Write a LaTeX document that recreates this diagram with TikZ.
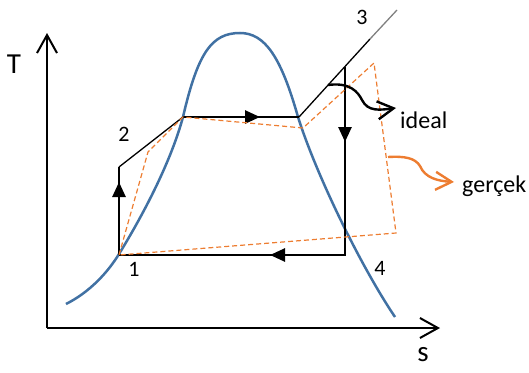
\documentclass[tikz,border=0pt]{standalone}
\usepackage{fontspec}
\setmainfont{Carlito}
\usetikzlibrary{arrows.meta}
\definecolor{domeblue}{RGB}{65,113,163}
\definecolor{realorange}{RGB}{237,125,49}
\tikzset{
  axis/.style={line width=2pt,-{Straight Barb[length=18pt,width=20pt,line width=2pt]}},
  thick cycle/.style={line width=2.6pt},
  thin cycle/.style={line width=1.3pt},
  midarrow/.style={line width=2.6pt,-{Triangle[length=15pt,width=13pt]}},
  real/.style={realorange,line width=1.2pt,dash pattern=on 5pt off 3pt},
  lbl/.style={font=\fontsize{22}{22}\selectfont,inner sep=0pt},
  wordlbl/.style={font=\fontsize{24}{24}\selectfont,inner sep=0pt},
  axlbl/.style={font=\fontsize{29}{29}\selectfont,inner sep=0pt},
  wavy/.style={line width=2.4pt,-{Straight Barb[length=16pt,width=18pt,line width=2.4pt]}}
}
\begin{document}
\begin{tikzpicture}[x=1pt,y=-1pt]
\useasboundingbox (0,0) rectangle (529,372);
% axes
\coordinate (O) at (47,328);
\coordinate (Ty) at (47,33);
\coordinate (Sx) at (440,328);
\draw[axis] (O) -- (Ty);
\draw[axis] (O) -- (Sx);
\node[axlbl] (T) at (14,64) {T};
\node[axlbl] (s) at (423,355) {s};
% saturation dome
\draw[domeblue,line width=2.5pt] (66,304) .. controls (90,292) and (108,272) .. (119,254)
  .. controls (140,220) and (170,165) .. (183,117)
  .. controls (198,52) and (212,33) .. (240,33)
  .. controls (265,33) and (281,57) .. (298,117)
  .. controls (316,174) and (360,265) .. (395,317);
% ideal cycle
\coordinate (p1) at (119,255);
\coordinate (p2a) at (119,167);
\coordinate (g) at (183,117);
\coordinate (f) at (299,117);
\coordinate (p3end) at (397,10);
\coordinate (p3mid) at (370,39);
\coordinate (p3) at (345,67);
\coordinate (p4) at (345,255);
\draw[thick cycle] (p1) -- (p2a);
\draw[thin cycle] (p2a) -- (g);
\draw[thick cycle] (g) -- (f);
\draw[thin cycle] (f) -- (p3mid);
\draw[thin cycle,gray] (p3mid) -- (p3end);
\draw[thick cycle] (p3) -- (p4) -- (p1);
% arrow heads
\coordinate (a1s) at (119,205); \coordinate (a1e) at (119,182);
\coordinate (a2s) at (235,117); \coordinate (a2e) at (260,117);
\coordinate (a3s) at (345,115); \coordinate (a3e) at (345,142);
\coordinate (a4s) at (300,255); \coordinate (a4e) at (270,255);
\draw[midarrow] (a1s) -- (a1e);
\draw[midarrow] (a2s) -- (a2e);
\draw[midarrow] (a3s) -- (a3e);
\draw[midarrow] (a4s) -- (a4e);
% real cycle
\coordinate (r2) at (148,152);
\coordinate (r2b) at (303,128);
\coordinate (r3) at (374,63);
\coordinate (r4) at (396,233);
\draw[real] (p1) -- (r2) -- (g) -- (r2b) -- (r3) -- (r4) -- cycle;
% state labels
\node[lbl] (n1) at (134,269) {1};
\node[lbl] (n2) at (124,134) {2};
\node[lbl] (n3) at (362,17) {3};
\node[lbl] (n4) at (380,268) {4};
% ideal label
\node[wordlbl,anchor=base west] (ideal) at (400,128) {ideal};
\coordinate (w1) at (328,85);
\coordinate (w1e) at (396,108);
\draw[wavy] (w1) .. controls (350,82) and (358,92) .. (362,100)
  .. controls (368,112) and (380,110) .. (w1e);
% real label
\node[wordlbl,anchor=base west] (gercek) at (462,192) {gerçek};
\coordinate (w2) at (388,157);
\coordinate (w2e) at (454,182);
\draw[wavy,realorange] (w2) .. controls (405,156) and (415,158) .. (420,166)
  .. controls (425,178) and (438,181) .. (w2e);
\end{tikzpicture}
\end{document}
